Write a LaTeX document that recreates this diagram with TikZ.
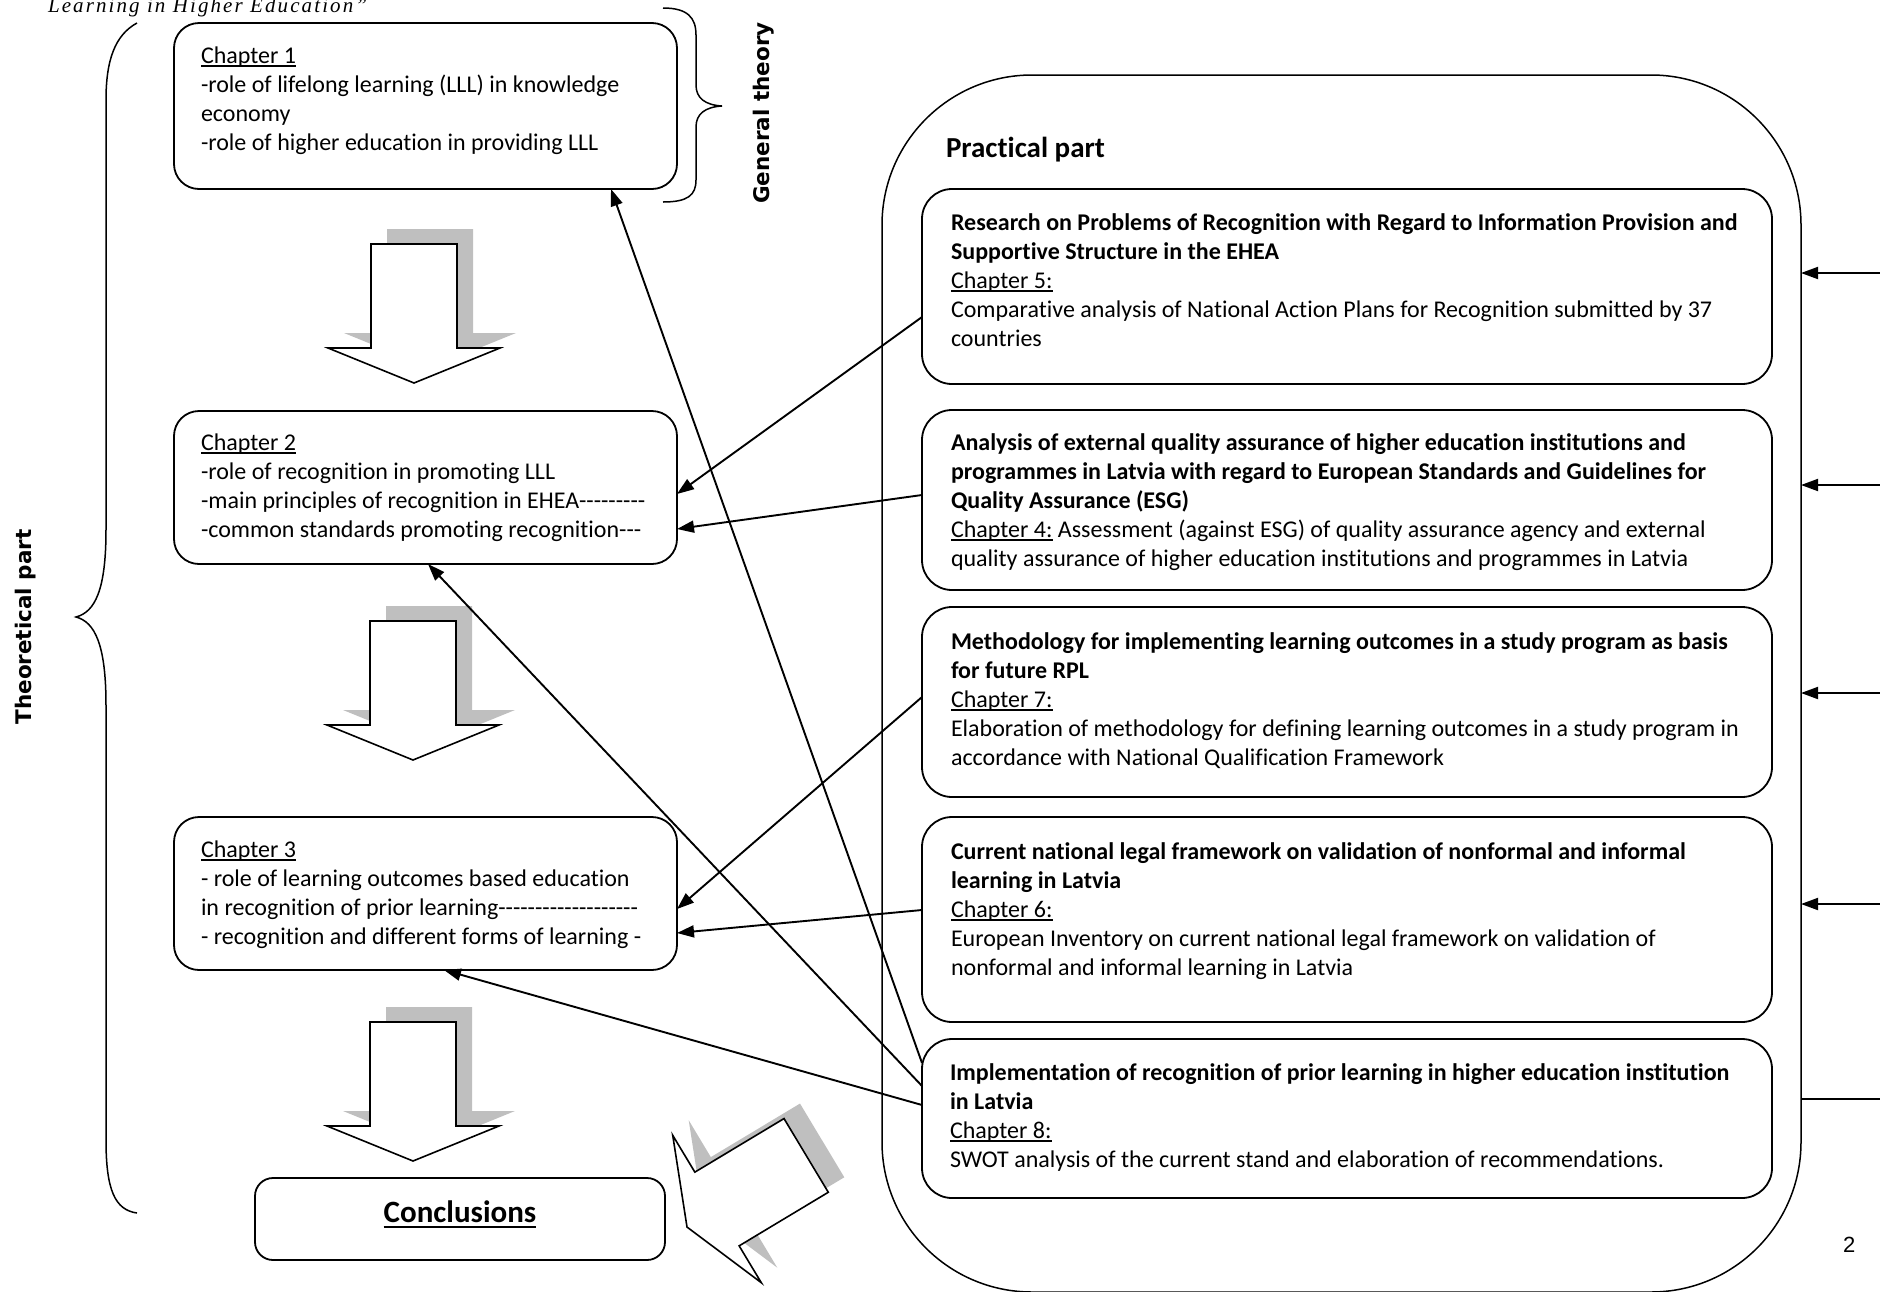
\documentclass[tikz,border=0pt]{standalone}
\usepackage{fontspec}
\setmainfont{Carlito}[Ligatures=NoCommon]
\newfontfamily\dvb{DejaVu Sans}
\newfontfamily\ttlf{Liberation Serif}[LetterSpace=10]
\newfontfamily\arialf{Liberation Sans}
\usetikzlibrary{arrows.meta,calc}
\definecolor{sg}{RGB}{191,191,191}
\newcommand\hy{-\kern0pt}
\newcommand\ulx[1]{\setbox0\hbox{#1}\rlap{\rule[-3.5pt]{\wd0}{1.4pt}}\box0\relax}
\newcommand\ulc[1]{\setbox0\hbox{#1}\rlap{\rule[-6pt]{\wd0}{2.4pt}}\box0\relax}
\newcommand\lns[1]{\vtop{\baselineskip=29pt\lineskiplimit=-100pt\lineskip=0pt\halign{##\hfil\cr#1\crcr}}}
\tikzset{
  every node/.style={inner sep=0pt,outer sep=0pt},
  txt/.style={anchor=base west,font=\fontsize{24}{29}\selectfont},
  lbox/.style={draw,line width=1.8pt,rounded corners=25pt,anchor=north west,minimum width=503pt},
  rbox/.style={draw,line width=1.8pt,rounded corners=30pt,anchor=north west,minimum width=850pt},
  conn/.style={line width=1.9pt,-{Triangle[length=17pt,width=12pt]}},
  brace/.style={line width=1.5pt},
  ashape/.pic={\path[pic actions] (-43,-139) -- (43,-139) -- (43,-35) -- (86,-35) -- (0,0) -- (-86,-35) -- (-43,-35) -- cycle;},
  shadowpic/.style={fill=sg},
  bodypic/.style={draw,fill=white,line width=1.6pt}
}
\begin{document}
\begin{tikzpicture}[x=1pt,y=-1pt]
\useasboundingbox (0,0) rectangle (1880,1291);
\clip (0,0) rectangle (1880,1291);

% title fragment
\node[anchor=base west,font=\ttlf\itshape\fontsize{21}{24}\selectfont] (title) at (48,12) {Learning in Higher Education”};

% braces
\draw[brace] (137,23) .. controls (115,35) and (106,60) .. (106,100) -- (106,530)
  .. controls (106,590) and (95,612) .. (76,617)
  .. controls (95,622) and (106,645) .. (106,705) -- (106,1140)
  .. controls (106,1190) and (115,1210) .. (137,1213);
\draw[brace] (663,8) .. controls (688,8) and (696,18) .. (696,35) -- (696,85)
  .. controls (696,98) and (705,105) .. (722,106)
  .. controls (705,107) and (696,114) .. (696,127) -- (696,180)
  .. controls (696,195) and (688,202) .. (663,202);
\node[rotate=90,font=\dvb\bfseries\fontsize{21.5}{26}\selectfont] (theo) at (26,627) {Theoretical part};
\node[rotate=90,font=\dvb\bfseries\fontsize{21.5}{26}\selectfont] (gen) at (764,113) {General theory};

% left chapter boxes
\node[lbox,minimum height=166pt] (ch1) at (174,23) {};
\node[txt] (t1) at (201,63) {\lns{\ulx{Chapter 1}\cr -role of lifelong learning (LLL) in knowledge\cr economy\cr -role of higher education in providing LLL}};
\node[lbox,minimum height=153pt] (ch2) at (174,411) {};
\node[txt] (t2) at (201,450) {\lns{\ulx{Chapter 2}\cr -role of recognition in promoting LLL\cr -main principles of recognition in EHEA\hy\hy\hy\hy\hy\hy\hy\hy\hy\cr -common standards promoting recognition\hy\hy\hy}};
\node[lbox,minimum height=153pt] (ch3) at (174,817) {};
\node[txt] (t3) at (201,857) {\lns{\ulx{Chapter 3}\cr - role of learning outcomes based education\cr in recognition of prior learning\hy\hy\hy\hy\hy\hy\hy\hy\hy\hy\hy\hy\hy\hy\hy\hy\hy\hy\hy\cr - recognition and different forms of learning -}};
\node[draw,line width=1.8pt,rounded corners=18pt,anchor=north west,minimum width=410pt,minimum height=82pt] (concl) at (255,1178) {};
\node[anchor=base,font=\bfseries\fontsize{31}{36}\selectfont] (conclt) at (460,1222) {\ulc{Conclusions}};

% block arrows
\pic[shadowpic] at (430,368) {ashape};
\pic[bodypic] at (414,383) {ashape};
\pic[shadowpic] at (429,745) {ashape};
\pic[bodypic] at (413,760) {ashape};
\pic[shadowpic] at (429,1146) {ashape};
\pic[bodypic] at (413,1161) {ashape};
\pic[shadowpic,rotate=-59] at (703,1212) {ashape};
\pic[bodypic,rotate=-59] at (687,1227) {ashape};

% practical part
\node[draw,line width=1.5pt,rounded corners=150pt,anchor=north west,minimum width=919pt,minimum height=1217pt] (prac) at (882,75) {};
\node[anchor=base west,font=\bfseries\fontsize{29}{34}\selectfont] (pract) at (946,157) {Practical part};

\node[rbox,minimum height=195pt] (ch5) at (922,189) {};
\node[txt] (t5) at (951,230) {\lns{\textbf{Research on Problems of Recognition with Regard to Information Provision and}\cr \textbf{Supportive Structure in the EHEA}\cr \ulx{Chapter 5:}\cr Comparative analysis of National Action Plans for Recognition submitted by 37\cr countries}};
\node[rbox,minimum height=180pt] (ch4) at (922,410) {};
\node[txt] (t4) at (951,450) {\lns{\textbf{Analysis of external quality assurance of higher education institutions and}\cr \textbf{programmes in Latvia with regard to European Standards and Guidelines for}\cr \textbf{Quality Assurance (ESG)}\cr \ulx{Chapter 4:} Assessment (against ESG) of quality assurance agency and external\cr quality assurance of higher education institutions and programmes in Latvia}};
\node[rbox,minimum height=190pt] (ch7) at (922,607) {};
\node[txt] (t7) at (951,649) {\lns{\textbf{Methodology for implementing learning outcomes in a study program as basis}\cr \textbf{for future RPL}\cr \ulx{Chapter 7:}\cr Elaboration of methodology for defining learning outcomes in a study program in\cr accordance with National Qualification Framework}};
\node[rbox,minimum height=205pt] (ch6) at (922,817) {};
\node[txt] (t6) at (951,859) {\lns{\textbf{Current national legal framework on validation of nonformal and informal}\cr \textbf{learning in Latvia}\cr \ulx{Chapter 6:}\cr European Inventory on current national legal framework on validation of\cr nonformal and informal learning in Latvia}};
\node[rbox,minimum height=159pt] (ch8) at (922,1039) {};
\node[txt] (t8) at (950,1080) {\lns{\textbf{Implementation of recognition of prior learning in higher education institution}\cr \textbf{in Latvia}\cr \ulx{Chapter 8:}\cr SWOT analysis of the current stand and elaboration of recommendations.}};

% connectors
\draw[conn] ($(ch8.north west)+(0,24)$) -- ($(ch1.south west)+(437,0)$);
\draw[conn] ($(ch8.north west)+(0,47)$) -- ($(ch2.south west)+(254,0)$);
\draw[conn] ($(ch8.north west)+(0,66)$) -- ($(ch3.south west)+(270,0)$);
\draw[conn] ($(ch5.north west)+(0,128)$) -- ($(ch2.north east)+(0,83)$);
\draw[conn] ($(ch4.north west)+(0,85)$) -- ($(ch2.north east)+(0,118)$);
\draw[conn] ($(ch7.north west)+(0,90)$) -- ($(ch3.north east)+(0,92)$);
\draw[conn] ($(ch6.north west)+(0,93)$) -- ($(ch3.north east)+(0,116)$);

% right incoming arrows
\coordinate (r1) at (1880,273);
\coordinate (r2) at (1880,485);
\coordinate (r3) at (1880,693);
\coordinate (r4) at (1880,904);
\coordinate (r5) at (1880,1099);
\foreach \r in {r1,r2,r3,r4} \draw[conn] (\r) -- (\r -| prac.east);
\draw[line width=1.9pt] (r5) -- (r5 -| prac.east);

% page number fragment
\node[anchor=base west,font=\arialf\fontsize{22}{26}\selectfont] (pg) at (1843,1252) {2};
\end{tikzpicture}
\end{document}
